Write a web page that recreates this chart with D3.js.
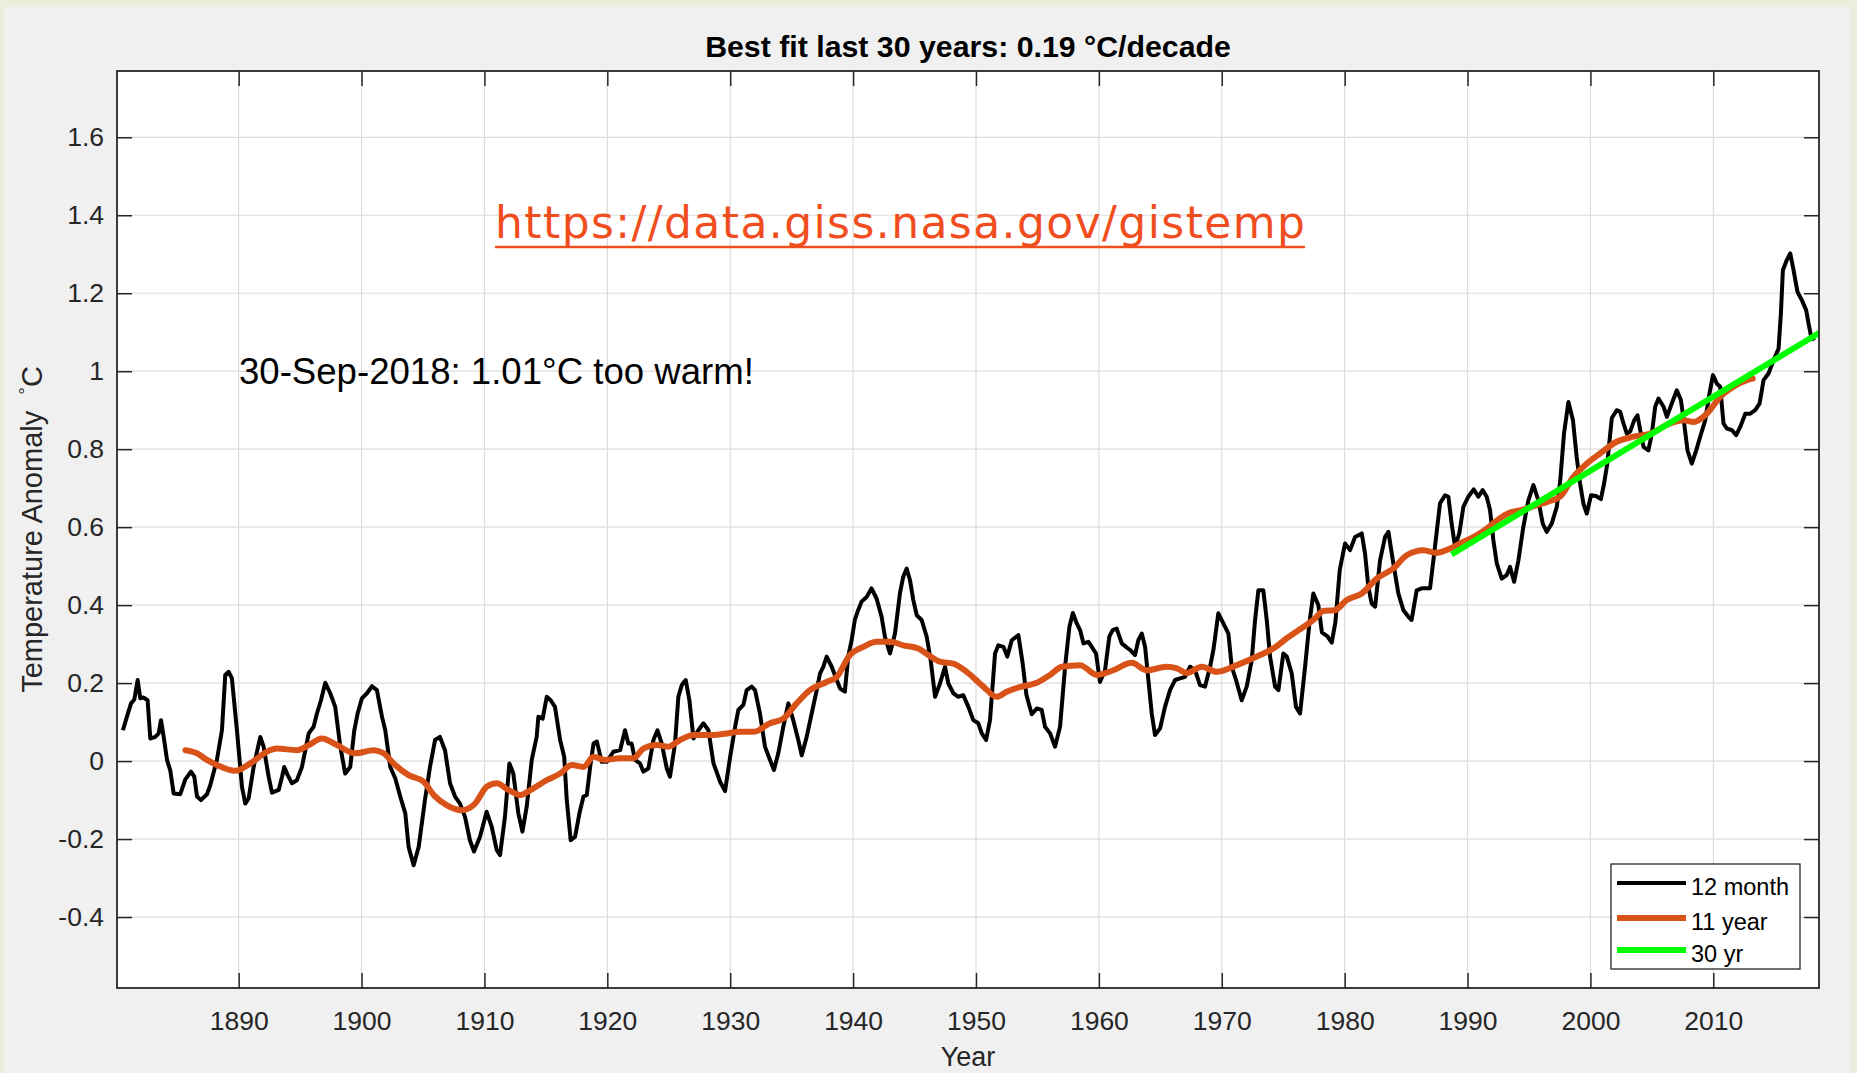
<!DOCTYPE html>
<html>
<head>
<meta charset="utf-8">
<script src="https://cdnjs.cloudflare.com/ajax/libs/d3/7.8.5/d3.min.js"></script>
<style>
  html, body { margin: 0; padding: 0; background: #e8eed9; overflow: hidden; }
  svg { display: block; }
</style>
</head>
<body>
<div id="chart"></div>
<script>
// 12-month running mean [year, anomaly]
let run12 = [
  [1880.58,0.079],[1880.91,0.114],[1881.24,0.148],[1881.51,0.158],[1881.78,0.208],[1881.99,0.161],
  [1882.27,0.163],[1882.59,0.156],[1882.81,0.058],[1883.22,0.062],[1883.49,0.071],[1883.68,0.105],
  [1883.90,0.062],[1884.17,0.003],[1884.43,-0.023],[1884.71,-0.083],[1885.25,-0.085],[1885.66,-0.047],
  [1886.12,-0.027],[1886.39,-0.040],[1886.61,-0.091],[1886.93,-0.100],[1887.42,-0.085],[1887.69,-0.062],
  [1888.23,0.003],[1888.64,0.079],[1888.91,0.221],[1889.19,0.229],[1889.45,0.212],[1889.86,0.079],
  [1890.27,-0.066],[1890.54,-0.109],[1890.81,-0.096],[1891.22,-0.015],[1891.76,0.062],[1892.03,0.037],
  [1892.44,-0.040],[1892.71,-0.081],[1893.26,-0.074],[1893.53,-0.040],[1893.71,-0.015],[1893.99,-0.036],
  [1894.34,-0.057],[1894.74,-0.049],[1895.15,-0.015],[1895.70,0.071],[1896.10,0.088],[1896.37,0.122],
  [1896.70,0.156],[1897.05,0.201],[1897.45,0.174],[1897.86,0.139],[1898.27,0.037],[1898.67,-0.032],
  [1899.08,-0.015],[1899.41,0.079],[1899.68,0.122],[1900.03,0.161],[1900.44,0.174],[1900.85,0.192],
  [1901.25,0.182],[1901.66,0.114],[1901.93,0.079],[1902.34,-0.015],[1902.74,-0.044],[1903.15,-0.091],
  [1903.56,-0.134],[1903.83,-0.220],[1904.24,-0.267],[1904.65,-0.220],[1905.16,-0.100],[1905.57,-0.015],
  [1905.98,0.054],[1906.38,0.062],[1906.79,0.028],[1907.20,-0.057],[1907.61,-0.091],[1908.01,-0.109],
  [1908.42,-0.143],[1908.82,-0.203],[1909.15,-0.232],[1909.64,-0.194],[1910.18,-0.130],[1910.59,-0.168],
  [1911.00,-0.228],[1911.27,-0.241],[1911.67,-0.143],[1912.03,-0.006],[1912.35,-0.032],[1912.76,-0.134],
  [1913.09,-0.181],[1913.44,-0.117],[1913.85,0.003],[1914.25,0.062],[1914.39,0.114],[1914.74,0.109],
  [1915.07,0.165],[1915.39,0.156],[1915.74,0.139],[1916.16,0.054],[1916.49,0.011],[1916.70,-0.100],
  [1917.02,-0.203],[1917.38,-0.194],[1917.73,-0.134],[1918.06,-0.091],[1918.33,-0.087],[1918.60,-0.015],
  [1918.88,0.045],[1919.15,0.050],[1919.54,-0.002],[1919.95,-0.002],[1920.49,0.024],[1921.04,0.028],
  [1921.44,0.079],[1921.71,0.045],[1921.98,0.045],[1922.25,0.003],[1922.66,-0.006],[1922.93,-0.027],
  [1923.34,-0.019],[1923.75,0.054],[1924.08,0.079],[1924.43,0.045],[1924.84,-0.019],[1925.10,-0.040],
  [1925.51,0.045],[1925.78,0.165],[1926.06,0.195],[1926.38,0.208],[1926.68,0.156],[1927.01,0.058],
  [1927.41,0.079],[1927.82,0.097],[1928.23,0.079],[1928.64,-0.006],[1929.18,-0.053],[1929.58,-0.077],
  [1929.99,0.010],[1930.40,0.088],[1930.66,0.131],[1931.07,0.144],[1931.34,0.182],[1931.75,0.191],
  [1932.02,0.182],[1932.42,0.122],[1932.83,0.037],[1933.24,0.003],[1933.56,-0.023],[1933.91,0.020],
  [1934.32,0.088],[1934.73,0.148],[1935.13,0.105],[1935.54,0.054],[1935.82,0.015],[1936.22,0.062],
  [1936.63,0.122],[1937.04,0.182],[1937.31,0.225],[1937.58,0.242],[1937.85,0.268],[1938.26,0.242],
  [1938.67,0.208],[1938.94,0.186],[1939.33,0.178],[1939.60,0.268],[1939.88,0.310],[1940.14,0.362],
  [1940.41,0.387],[1940.69,0.409],[1941.10,0.421],[1941.50,0.443],[1941.91,0.417],[1942.32,0.370],
  [1942.59,0.319],[1943.00,0.276],[1943.41,0.327],[1943.81,0.430],[1944.08,0.473],[1944.36,0.494],
  [1944.63,0.464],[1944.90,0.413],[1945.18,0.374],[1945.58,0.362],[1945.99,0.319],[1946.31,0.259],
  [1946.67,0.165],[1947.07,0.199],[1947.48,0.242],[1947.75,0.199],[1948.16,0.174],[1948.56,0.165],
  [1948.97,0.169],[1949.38,0.139],[1949.78,0.105],[1950.19,0.097],[1950.47,0.071],[1950.82,0.054],
  [1951.14,0.105],[1951.55,0.276],[1951.82,0.297],[1952.23,0.293],[1952.55,0.268],[1952.91,0.310],
  [1953.45,0.323],[1953.80,0.250],[1954.10,0.170],[1954.54,0.120],[1954.95,0.135],[1955.35,0.131],
  [1955.62,0.088],[1956.03,0.071],[1956.43,0.037],[1956.84,0.088],[1957.25,0.242],[1957.60,0.344],
  [1957.88,0.380],[1958.20,0.353],[1958.47,0.336],[1958.74,0.302],[1959.15,0.306],[1959.42,0.293],
  [1959.77,0.276],[1960.09,0.203],[1960.50,0.233],[1960.85,0.319],[1961.12,0.336],[1961.45,0.340],
  [1961.86,0.302],[1962.21,0.293],[1962.54,0.285],[1962.94,0.272],[1963.21,0.310],[1963.49,0.327],
  [1963.76,0.293],[1964.03,0.208],[1964.30,0.122],[1964.57,0.067],[1964.98,0.084],[1965.38,0.139],
  [1965.79,0.182],[1966.20,0.208],[1966.60,0.212],[1967.01,0.216],[1967.42,0.242],[1967.83,0.233],
  [1968.23,0.195],[1968.64,0.191],[1969.05,0.242],[1969.32,0.285],[1969.72,0.379],[1970.13,0.353],
  [1970.54,0.327],[1970.81,0.242],[1971.16,0.208],[1971.62,0.156],[1972.03,0.191],[1972.44,0.259],
  [1972.71,0.362],[1972.98,0.438],[1973.38,0.438],[1973.66,0.362],[1973.93,0.268],[1974.34,0.191],
  [1974.61,0.182],[1975.01,0.276],[1975.29,0.268],[1975.69,0.225],[1976.04,0.139],[1976.37,0.122],
  [1976.78,0.242],[1977.13,0.353],[1977.45,0.430],[1977.86,0.400],[1978.15,0.330],[1978.60,0.320],
  [1978.95,0.304],[1979.25,0.357],[1979.60,0.490],[1980.03,0.558],[1980.44,0.541],[1980.85,0.575],
  [1981.39,0.584],[1981.66,0.532],[1981.93,0.447],[1982.20,0.404],[1982.48,0.396],[1982.88,0.515],
  [1983.29,0.575],[1983.56,0.588],[1983.96,0.507],[1984.37,0.430],[1984.78,0.387],[1985.19,0.370],
  [1985.45,0.362],[1985.86,0.438],[1986.27,0.443],[1986.95,0.443],[1987.35,0.550],[1987.76,0.661],
  [1988.17,0.682],[1988.44,0.678],[1988.71,0.609],[1988.98,0.550],[1989.33,0.584],[1989.66,0.652],
  [1990.06,0.678],[1990.50,0.697],[1990.88,0.678],[1991.23,0.695],[1991.56,0.678],[1991.83,0.644],
  [1992.10,0.567],[1992.38,0.507],[1992.78,0.468],[1993.19,0.477],[1993.46,0.498],[1993.79,0.460],
  [1994.14,0.515],[1994.54,0.601],[1994.95,0.669],[1995.36,0.708],[1995.76,0.669],[1996.12,0.609],
  [1996.45,0.588],[1996.85,0.609],[1997.26,0.652],[1997.53,0.715],[1997.85,0.840],[1998.21,0.921],
  [1998.58,0.874],[1998.88,0.780],[1999.16,0.712],[1999.43,0.660],[1999.70,0.635],[2000.05,0.682],
  [2000.45,0.680],[2000.85,0.672],[2001.10,0.710],[2001.36,0.760],[2001.74,0.880],[2002.14,0.900],
  [2002.42,0.896],[2002.69,0.866],[2002.96,0.840],[2003.23,0.845],[2003.56,0.874],[2003.83,0.887],
  [2004.05,0.849],[2004.32,0.806],[2004.72,0.797],[2005.00,0.840],[2005.27,0.909],[2005.54,0.930],
  [2005.95,0.909],[2006.22,0.883],[2006.62,0.917],[2007.03,0.951],[2007.36,0.926],[2007.63,0.866],
  [2007.90,0.797],[2008.25,0.763],[2008.61,0.797],[2008.93,0.832],[2009.34,0.874],[2009.69,0.943],
  [2009.97,0.990],[2010.29,0.968],[2010.56,0.960],[2010.83,0.866],[2011.10,0.853],[2011.51,0.849],
  [2011.86,0.836],[2012.19,0.857],[2012.60,0.891],[2013.00,0.891],[2013.41,0.900],[2013.76,0.917],
  [2014.09,0.977],[2014.49,0.994],[2014.90,1.028],[2015.31,1.058],[2015.50,1.148],[2015.66,1.259],
  [2015.98,1.285],[2016.26,1.302],[2016.53,1.259],[2016.85,1.203],[2017.21,1.182],[2017.56,1.156],
  [2017.75,1.122],[2017.94,1.092],[2018.21,1.079]
];

// 11-year running mean
let run11y = [
  [1885.66,0.028],[1886.61,0.020],[1887.42,0.003],[1888.23,-0.010],[1889.72,-0.025],[1890.95,-0.006],
  [1892.30,0.024],[1893.12,0.032],[1894.74,0.028],[1895.70,0.041],[1896.78,0.058],[1898.00,0.041],
  [1899.49,0.020],[1900.99,0.028],[1901.80,0.020],[1902.61,-0.006],[1903.83,-0.036],[1905.06,-0.053],
  [1905.90,-0.088],[1906.92,-0.113],[1908.14,-0.126],[1909.24,-0.109],[1910.18,-0.066],[1911.00,-0.057],
  [1911.95,-0.074],[1912.90,-0.087],[1913.98,-0.070],[1915.07,-0.049],[1916.16,-0.032],[1917.10,-0.010],
  [1918.06,-0.015],[1918.88,0.011],[1919.81,0.003],[1921.04,0.007],[1922.12,0.007],[1922.93,0.032],
  [1924.02,0.041],[1924.97,0.037],[1925.92,0.054],[1927.01,0.067],[1928.64,0.067],[1929.72,0.071],
  [1930.80,0.075],[1931.89,0.075],[1933.24,0.097],[1934.32,0.109],[1935.40,0.148],[1936.49,0.182],
  [1937.85,0.203],[1938.67,0.216],[1939.74,0.272],[1940.83,0.293],[1941.91,0.306],[1943.00,0.306],
  [1944.08,0.297],[1945.31,0.289],[1946.12,0.272],[1947.07,0.255],[1948.16,0.250],[1949.24,0.229],
  [1950.60,0.191],[1951.68,0.165],[1952.50,0.178],[1953.59,0.190],[1954.95,0.201],[1956.03,0.221],
  [1956.98,0.242],[1958.47,0.246],[1959.83,0.221],[1961.18,0.233],[1962.67,0.252],[1963.90,0.233],
  [1965.52,0.242],[1966.34,0.238],[1967.15,0.226],[1968.37,0.242],[1969.59,0.229],[1971.22,0.246],
  [1973.11,0.272],[1974.20,0.289],[1975.29,0.315],[1976.37,0.338],[1977.45,0.362],[1978.27,0.385],
  [1979.20,0.387],[1980.17,0.413],[1981.39,0.430],[1982.61,0.468],[1983.96,0.494],[1985.05,0.528],
  [1986.41,0.541],[1987.49,0.534],[1988.58,0.545],[1989.50,0.560],[1990.50,0.575],[1991.50,0.595],
  [1992.50,0.620],[1993.50,0.638],[1994.50,0.645],[1995.50,0.655],[1996.50,0.665],[1997.53,0.678],
  [1998.61,0.729],[1999.70,0.763],[2000.78,0.789],[2002.14,0.819],[2003.50,0.832],[2004.86,0.840],
  [2006.49,0.866],[2007.57,0.874],[2008.39,0.870],[2009.47,0.891],[2010.56,0.934],[2011.64,0.960],
  [2012.73,0.977],[2013.21,0.981]
];

// 30 year linear fit (0.19 C/decade)
let fit30 = [[1988.7,0.530],[2018.7,1.100]];

let xTicks = [1890,1900,1910,1920,1930,1940,1950,1960,1970,1980,1990,2000,2010];
let yTicks = [-0.4,-0.2,0,0.2,0.4,0.6,0.8,1,1.2,1.4,1.6];
let legendLabels = ['12 month','11 year','30 yr'];

let titleText = 'Best fit last 30 years: 0.19 \u00B0C/decade';
let noteText = '30-Sep-2018: 1.01\u00B0C too warm!';
let urlText = 'https://data.giss.nasa.gov/gistemp';

//----------------------------------------
// SVG setup
let width = 1857,
    height = 1073;
let pLeft = 117, pRight = 1819, pTop = 71, pBottom = 988;
let font = '"Liberation Sans", Arial, Helvetica, sans-serif';
let axisColor = '#262626';

let svg = d3.select('#chart').append('svg')
    .attr('width', width)
    .attr('height', height);

// slide background + matlab figure grey
svg.append('rect')
    .attr('x', 0).attr('y', 0)
    .attr('width', width).attr('height', height)
    .style('fill', '#e8eed9');
svg.append('rect')
    .attr('x', 4).attr('y', 7)
    .attr('width', 1847).attr('height', height - 7)
    .style('fill', '#f0f0f0');

//----------------------------------------
// Scales
let x = d3.scaleLinear().domain([1880.1, 2018.6]).range([pLeft, pRight]);
let y = d3.scaleLinear().domain([-0.582, 1.770]).range([pBottom, pTop]);

svg.append('rect')
    .attr('x', pLeft).attr('y', pTop)
    .attr('width', pRight - pLeft).attr('height', pBottom - pTop)
    .style('fill', '#ffffff');

svg.append('clipPath').attr('id', 'plotclip')
    .append('rect')
    .attr('x', pLeft).attr('y', pTop)
    .attr('width', pRight - pLeft).attr('height', pBottom - pTop);

//----------------------------------------
// Grid
let grid = svg.append('g').style('stroke', '#dcdcdc').style('stroke-width', 1.2);
grid.selectAll('.gx').data(xTicks).enter().append('line')
    .attr('x1', d => x(d)).attr('x2', d => x(d))
    .attr('y1', pTop).attr('y2', pBottom);
grid.selectAll('.gy').data(yTicks).enter().append('line')
    .attr('x1', pLeft).attr('x2', pRight)
    .attr('y1', d => y(d)).attr('y2', d => y(d));

//----------------------------------------
// Axes (ticks point inwards, box on)
let fmtY = d => String(+d.toFixed(1));

let xAxis = svg.append('g')
    .attr('transform', 'translate(0,' + pBottom + ')')
    .call(d3.axisBottom(x).tickValues(xTicks).tickSize(-15).tickSizeOuter(0).tickPadding(23).tickFormat(d3.format('d')));
let yAxis = svg.append('g')
    .attr('transform', 'translate(' + pLeft + ',0)')
    .call(d3.axisLeft(y).tickValues(yTicks).tickSize(-15).tickSizeOuter(0).tickPadding(13).tickFormat(fmtY));
let xTop = svg.append('g')
    .attr('transform', 'translate(0,' + pTop + ')')
    .call(d3.axisTop(x).tickValues(xTicks).tickSize(-15).tickSizeOuter(0).tickFormat(''));
let yRight = svg.append('g')
    .attr('transform', 'translate(' + pRight + ',0)')
    .call(d3.axisRight(y).tickValues(yTicks).tickSize(-15).tickSizeOuter(0).tickFormat(''));

[xAxis, yAxis, xTop, yRight].forEach(function(g) {
    g.select('.domain').remove();
    g.selectAll('line').style('stroke', axisColor).style('stroke-width', 1.5);
    g.selectAll('text')
        .style('font-family', font)
        .style('font-size', '26.5px')
        .style('fill', axisColor);
});

//----------------------------------------
// The lines
let line = d3.line()
    .x(d => x(d[0]))
    .y(d => y(d[1]));

let plot = svg.append('g').attr('clip-path', 'url(#plotclip)');

plot.append('path')
    .datum(run12)
    .attr('d', line)
    .style('fill', 'none')
    .style('stroke', '#000000')
    .style('stroke-width', 4)
    .style('stroke-linejoin', 'round');

plot.append('path')
    .datum(run11y)
    .attr('d', line.curve(d3.curveMonotoneX))
    .style('fill', 'none')
    .style('stroke', '#d95319')
    .style('stroke-width', 6)
    .style('stroke-linejoin', 'round')
    .style('stroke-linecap', 'round');

plot.append('path')
    .datum(fit30)
    .attr('d', line.curve(d3.curveLinear))
    .style('fill', 'none')
    .style('stroke', '#00ff00')
    .style('stroke-width', 6);

// axes box
svg.append('rect')
    .attr('x', pLeft).attr('y', pTop)
    .attr('width', pRight - pLeft).attr('height', pBottom - pTop)
    .style('fill', 'none')
    .style('stroke', axisColor)
    .style('stroke-width', 1.8);

//----------------------------------------
// Texts
svg.append('text')
    .attr('x', (pLeft + pRight) / 2).attr('y', 57)
    .attr('text-anchor', 'middle')
    .style('font-family', font)
    .style('font-weight', 'bold')
    .style('font-size', '30.3px')
    .style('fill', '#000')
    .text(titleText);

svg.append('text')
    .attr('x', (pLeft + pRight) / 2).attr('y', 1066)
    .attr('text-anchor', 'middle')
    .style('font-family', font)
    .style('font-size', '27px')
    .style('fill', axisColor)
    .text('Year');

let ylab = svg.append('text')
    .attr('transform', 'translate(42,' + ((pTop + pBottom) / 2) + ') rotate(-90)')
    .attr('text-anchor', 'middle')
    .style('font-family', font)
    .style('font-size', '29px')
    .style('fill', axisColor);
ylab.append('tspan').text('Temperature Anomaly ');
ylab.append('tspan').attr('dx', 8).style('font-size', '19px').attr('dy', -10).text('\u00B0');
ylab.append('tspan').attr('dy', 10).text('C');

svg.append('text')
    .attr('x', 239).attr('y', 384)
    .style('font-family', font)
    .style('font-size', '36.6px')
    .style('fill', '#000')
    .text(noteText);

let url = svg.append('text')
    .attr('x', 495).attr('y', 238)
    .attr('textLength', 810)
    .attr('lengthAdjust', 'spacing')
    .style('font-family', '"DejaVu Sans", sans-serif')
    .style('font-size', '44px')
    .style('fill', '#f04e1e')
    .text(urlText);
let urlBox = url.node().getBBox();
svg.append('line')
    .attr('x1', urlBox.x).attr('x2', urlBox.x + urlBox.width)
    .attr('y1', 247).attr('y2', 247)
    .style('stroke', '#f04e1e')
    .style('stroke-width', 2.5);

//----------------------------------------
// Legend
let legendColors = ['#000000', '#d95319', '#00ff00'];
let legendWidths = [4, 6, 6];
let legendRows = [883, 918, 950];

let legend = svg.append('g');
legend.append('rect')
    .attr('x', 1611).attr('y', 864)
    .attr('width', 189).attr('height', 105)
    .style('fill', '#ffffff')
    .style('stroke', axisColor)
    .style('stroke-width', 1.3);

let item = legend.selectAll('.item')
    .data(legendLabels)
    .enter()
    .append('g');
item.append('line')
    .attr('x1', 1617).attr('x2', 1686)
    .attr('y1', (d, i) => legendRows[i]).attr('y2', (d, i) => legendRows[i])
    .style('stroke', (d, i) => legendColors[i])
    .style('stroke-width', (d, i) => legendWidths[i]);
item.append('text')
    .attr('x', 1691)
    .attr('y', (d, i) => legendRows[i] + 12)
    .style('font-family', font)
    .style('font-size', '23.5px')
    .style('fill', '#000')
    .text(d => d);
</script>
</body>
</html>
